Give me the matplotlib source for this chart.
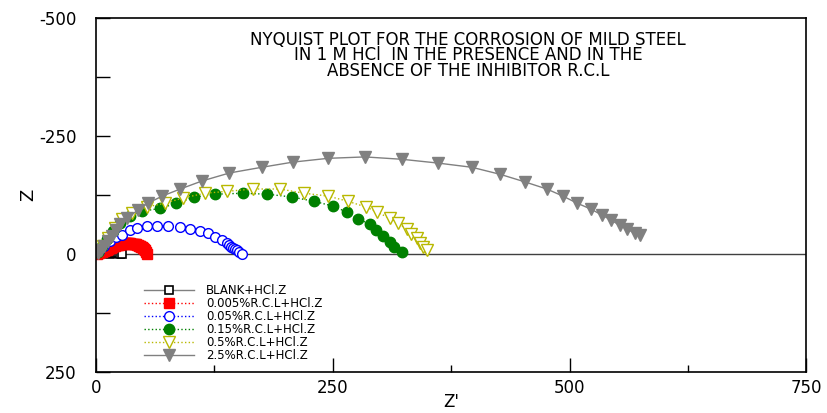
import matplotlib
matplotlib.use("Agg")
import matplotlib.pyplot as plt
from matplotlib.ticker import MultipleLocator

plt.rcParams['font.family'] = ['DejaVu Sans']
plt.rcParams['axes.unicode_minus'] = False

# Z' and Z'' values (ohm cm2)
blank_x = [15, 17, 19, 21, 23, 25, 27]
blank_y = [-1, -2, -2, -2, -2, -1, 0]

r005_x = [1, 2, 3, 4, 5, 6, 7, 8, 9, 10, 11, 12, 13, 14, 15, 16, 17, 18, 19, 20, 21, 22, 23, 24, 25, 26, 27, 28, 29, 30,
          31, 32, 33, 34, 35, 36, 37, 38, 39, 40, 41, 42, 43, 44, 45, 46, 47, 48, 49, 50, 51, 52, 53, 54]
r005_y = [-1, -2, -3, -4, -5, -5, -6, -7, -7, -8, -8, -9, -10, -12, -13, -14, -16, -17, -18, -18, -19, -19, -20, -20, -21, -21, -22, -22, -22, -23,
          -23, -23, -23, -23, -23, -23, -22, -22, -22, -22, -21, -21, -20, -19, -18, -18, -17, -16, -15, -13, -11, -8, -4, 0]

r05_x = [3, 8, 15, 21, 27, 36, 43, 54, 64, 76, 89, 99, 110, 118, 126, 133, 138, 141, 143, 145, 147, 149, 151, 154]
r05_y = [-6, -17, -28, -36, -40, -51, -55, -59, -59, -59, -57, -53, -49, -44, -36, -30, -23, -19, -15, -13, -11, -8, -5, 0]

r15_x = [2, 6, 12, 18, 25, 36, 49, 68, 85, 104, 126, 155, 181, 207, 230, 250, 265, 277, 289, 296, 303, 310, 315, 323]
r15_y = [-4, -17, -32, -49, -66, -81, -91, -97, -108, -121, -127, -129, -127, -121, -112, -102, -89, -74, -64, -51, -38, -25, -15, -4]

r5_x = [3, 7, 13, 20, 27, 38, 54, 73, 92, 115, 138, 166, 194, 220, 245, 266, 285, 297, 310, 319, 328, 333, 339, 342, 345, 349]
r5_y = [-6, -17, -34, -55, -74, -87, -100, -108, -119, -129, -133, -138, -138, -129, -123, -112, -100, -89, -76, -66, -53, -42, -34, -23, -15, -8]

r25_x = [2, 5, 8, 13, 17, 21, 25, 33, 44, 55, 70, 89, 112, 141, 175, 208, 245, 284, 323, 361, 397, 427, 453, 476, 493, 508, 523, 534, 544, 553, 561, 569, 574]
r25_y = [-2, -8, -17, -28, -38, -51, -64, -76, -93, -108, -123, -138, -155, -172, -184, -195, -203, -206, -201, -193, -184, -169, -153, -138, -123, -108, -95, -83, -72, -61, -53, -44, -40]

labels = ["BLANK+HCl.Z", "0.005%R.C.L+HCl.Z", "0.05%R.C.L+HCl.Z",
          "0.15%R.C.L+HCl.Z", "0.5%R.C.L+HCl.Z", "2.5%R.C.L+HCl.Z"]

fig = plt.figure(figsize=(8.27, 4.13), dpi=100)
ax = fig.add_axes([0.116, 0.099, 0.859, 0.857])

ax.axhline(0, color='#404040', lw=1, zorder=1)

ax.plot(blank_x, blank_y, '-', color='gray', lw=1, marker='s', ms=6,
        mfc='white', mec='black', mew=1.2, label=labels[0])
ax.plot(r005_x, r005_y, ':', color='red', lw=1, marker='s', ms=7,
        mfc='red', mec='red', label=labels[1])
ax.plot(r05_x, r05_y, ':', color='blue', lw=1, marker='o', ms=7,
        mfc='white', mec='blue', mew=1, label=labels[2])
ax.plot(r15_x, r15_y, ':', color='green', lw=1, marker='o', ms=7.5,
        mfc='green', mec='green', label=labels[3])
ax.plot(r5_x, r5_y, ':', color='#b8b800', lw=1, marker='v', ms=8.5,
        mfc='white', mec='#b8b800', mew=1, label=labels[4])
ax.plot(r25_x, r25_y, '-', color='gray', lw=1, marker='v', ms=8.5,
        mfc='gray', mec='gray', label=labels[5])

ax.set_xlim(0, 750)
ax.set_ylim(250, -500)
ax.xaxis.set_major_locator(MultipleLocator(250))
ax.xaxis.set_minor_locator(MultipleLocator(125))
ax.yaxis.set_major_locator(MultipleLocator(250))
ax.yaxis.set_minor_locator(MultipleLocator(125))
ax.tick_params(which='both', direction='in', labelsize=12, width=1)
ax.tick_params(which='major', length=10)
ax.tick_params(axis='y', which='minor', length=10)
ax.tick_params(axis='x', which='minor', length=5)
ax.tick_params(axis='x', pad=5)
ax.tick_params(axis='y', pad=14)
for s in ax.spines.values():
    s.set_linewidth(1.2)

ax.set_xlabel("Z'", fontsize=12)
ax.xaxis.set_label_coords(0.5, -0.06)
ax.set_ylabel("Z", fontsize=13)
ax.yaxis.set_label_coords(-0.082, 0.5)

ax.text(0.524, 0.965, "NYQUIST PLOT FOR THE CORROSION OF MILD STEEL\n"
        "IN 1 M HCl  IN THE PRESENCE AND IN THE\n"
        "ABSENCE OF THE INHIBITOR R.C.L",
        transform=ax.transAxes, ha='center', va='top', fontsize=12,
        linespacing=0.85)

ax.legend(loc='upper left', bbox_to_anchor=(0.06, 0.265), frameon=False,
          fontsize=8.5, handlelength=4.2, labelspacing=0.0,
          handletextpad=1.0, borderpad=0)

fig.savefig("out.png", dpi=100)
